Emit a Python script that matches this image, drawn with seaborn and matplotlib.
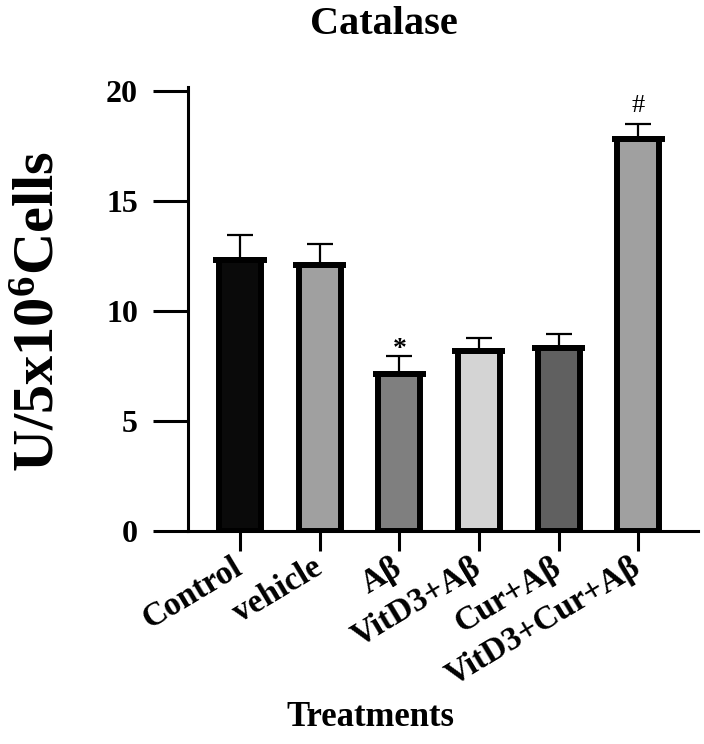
import matplotlib
matplotlib.use("Agg")
import matplotlib.pyplot as plt
import seaborn as sns
import pandas as pd
import numpy as np

categories = ["Control", "vehicle", "Aβ", "VitD3+Aβ", "Cur+Aβ", "VitD3+Cur+Aβ"]
means = [12.3, 12.1, 7.15, 8.17, 8.32, 17.8]
errors = [1.15, 0.95, 0.82, 0.62, 0.65, 0.7]
colors = ["#0a0a0a", "#a0a0a0", "#7f7f7f", "#d4d4d4", "#606060", "#a0a0a0"]
marks = ["", "", "*", "", "", "#"]
yticks = [0, 5, 10, 15, 20]

sns.set_theme(style="ticks")
plt.rcParams["font.family"] = ["Liberation Serif", "DejaVu Serif"]
plt.rcParams["font.weight"] = "bold"
plt.rcParams["text.color"] = "black"
plt.rcParams["axes.labelcolor"] = "black"
plt.rcParams["xtick.color"] = "black"
plt.rcParams["ytick.color"] = "black"
plt.rcParams["mathtext.fontset"] = "custom"
plt.rcParams["mathtext.rm"] = "Liberation Serif:bold"
plt.rcParams["mathtext.bf"] = "Liberation Serif:bold"
plt.rcParams["mathtext.it"] = "Liberation Serif:bold"

df = pd.DataFrame({"cat": categories, "val": means})

fig = plt.figure(figsize=(7.04, 7.44), dpi=100)
ax = fig.add_axes([188 / 704, 0.2863, 510 / 704, 0.5973])

sns.barplot(data=df, x="cat", y="val", hue="cat", palette=colors, legend=False,
            dodge=False, width=0.53, edgecolor="black", linewidth=4.3,
            errorbar=None, ax=ax, zorder=2)

xs = np.arange(len(categories))
ax.errorbar(xs, means, yerr=[np.zeros(len(errors)), errors], fmt="none",
            ecolor="black", elinewidth=1.6, capsize=9.7, capthick=1.6, zorder=1)
ax.hlines(means, xs - 0.333, xs + 0.333, colors="black", linewidth=4.3, zorder=3)

for x, m, e, t in zip(xs, means, errors, marks):
    if t == "*":
        ax.text(x, m + e + 0.28, t, ha="center", va="center",
                fontsize=20, fontweight="bold", color="black")
    elif t:
        ax.text(x, m + e + 0.82, t, ha="center", va="center",
                fontsize=19, fontweight="normal", color="black")

ax.set_xlim(-0.653, 5.75)
ax.set_ylim(0, 20.2)
ax.set_yticks(yticks)
ax.set_yticklabels([str(v) for v in yticks])
ax.set_xlabel("")
ax.set_ylabel("")

for s in ["top", "right"]:
    ax.spines[s].set_visible(False)
for s in ["left", "bottom"]:
    ax.spines[s].set_linewidth(2.2)
    ax.spines[s].set_color("black")

ax.tick_params(axis="y", direction="out", length=25, width=2.2, pad=11,
               labelsize=23, colors="black")
ax.tick_params(axis="x", direction="out", length=14.4, width=2.2, pad=10,
               labelsize=24, colors="black")
for lab in ax.get_yticklabels():
    lab.set_fontweight("bold")
for lab in ax.get_xticklabels():
    lab.set_fontweight("bold")
    lab.set_rotation(31)
    lab.set_ha("right")
    lab.set_va("center")
    lab.set_rotation_mode("anchor")

fig.text(384 / 704, 1 - 25 / 744, "Catalase", ha="center", va="center",
         fontsize=29, fontweight="bold", color="black")
fig.text(370 / 704, 1 - 718 / 744, "Treatments", ha="center", va="center",
         fontsize=25, fontweight="bold", color="black")
fig.text(40 / 704, 1 - 311 / 744, "U/5x10$^6$Cells", ha="center", va="center",
         rotation=90, fontsize=42, fontweight="bold", color="black")

fig.savefig("out.png", dpi=100, facecolor="white")
